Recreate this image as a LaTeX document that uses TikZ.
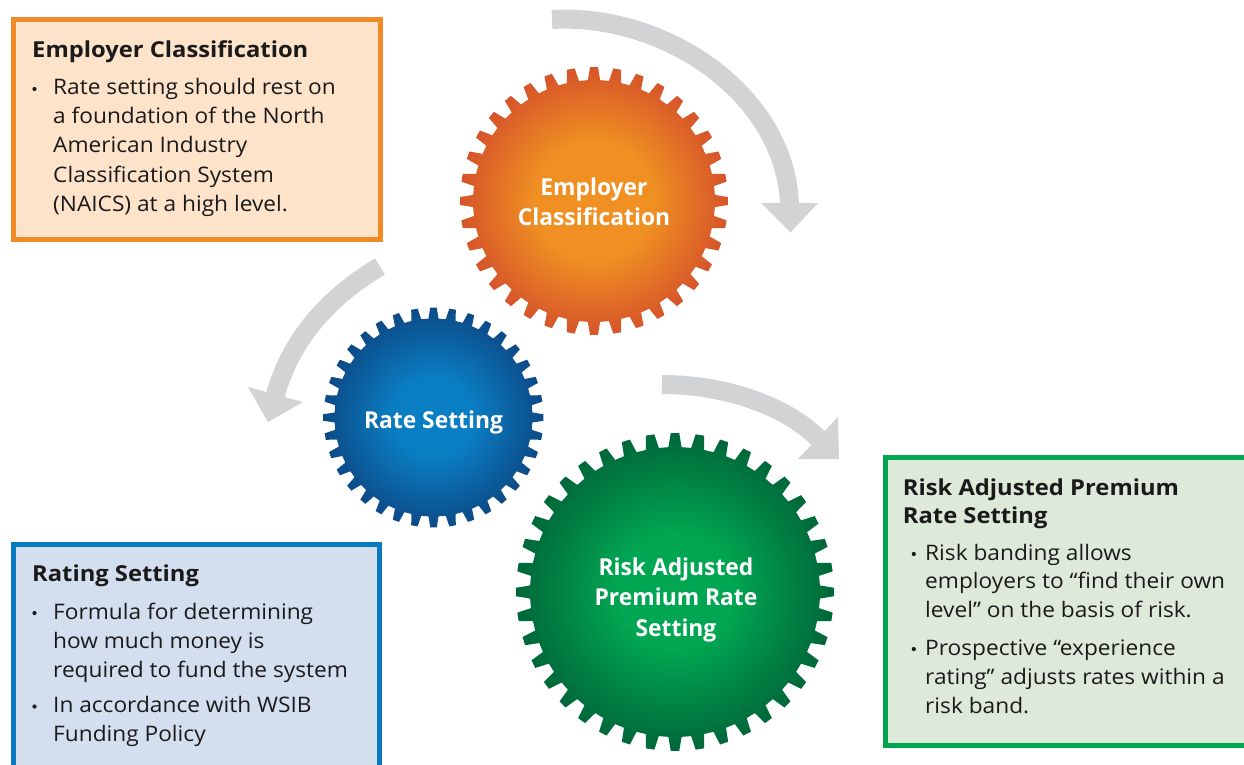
\documentclass[tikz,border=0pt]{standalone}
\usepackage{fontspec}
\setmainfont{Open Sans}
\newfontfamily\bodyf[FakeStretch=1.06]{Open Sans}
\newfontfamily\titlef[FakeStretch=1.08]{Open Sans}
\newfontfamily\gearf[FakeStretch=0.98]{Open Sans}
\usetikzlibrary{arrows.meta}
\definecolor{oFill}{HTML}{FDE3CA}
\definecolor{oLine}{HTML}{F08A26}
\definecolor{bFill}{HTML}{D3DEEF}
\definecolor{bLine}{HTML}{0A7ABF}
\definecolor{gFill}{HTML}{DDEAD9}
\definecolor{gLine}{HTML}{00A54F}
\definecolor{arrowgrey}{HTML}{D1D3D4}
\definecolor{txt}{HTML}{1A1A1A}
\definecolor{ocA}{HTML}{F09022}
\definecolor{ocB}{HTML}{D6542A}
\definecolor{bcA}{HTML}{0A7EC3}
\definecolor{bcB}{HTML}{0C4A86}
\definecolor{gcA}{HTML}{00A651}
\definecolor{gcB}{HTML}{00673A}
\pgfdeclareradialshading{orangesh}{\pgfpoint{0bp}{0bp}}{color(0bp)=(ocA); color(11bp)=(ocA); color(25bp)=(ocB); color(50bp)=(ocB)}
\pgfdeclareradialshading{bluesh}{\pgfpoint{0bp}{0bp}}{color(0bp)=(bcA); color(9bp)=(bcA); color(25bp)=(bcB); color(50bp)=(bcB)}
\pgfdeclareradialshading{greensh}{\pgfpoint{0bp}{0bp}}{color(0bp)=(gcA); color(9bp)=(gcA); color(25bp)=(gcB); color(50bp)=(gcB)}
% #1 cx, #2 cy, #3 teeth, #4 outer radius, #5 depth, #6 shading
\newcommand{\drawgear}[6]{%
  \begin{scope}[shift={(#1,#2)}]
    \pgfmathsetmacro\gP{360/#3}
    \pgfmathsetmacro\gRi{#4-#5}
    \pgfmathsetmacro\gbh{0.29*\gP}
    \pgfmathsetmacro\gth{0.17*\gP}
    \shade[shading=#6] ({90+\gP/2}:\gRi)
      \foreach \k in {1,...,#3} {
        -- ({90+\k*\gP-\gbh}:\gRi)
        -- ({90+\k*\gP-\gth}:#4)
        -- ({90+\k*\gP+\gth}:#4)
        -- ({90+\k*\gP+\gbh}:\gRi)
      } -- cycle;
  \end{scope}}
\begin{document}
\begin{tikzpicture}[x=1pt,y=-1pt,
  boxshape/.style={draw, line width=5pt, inner sep=0pt, anchor=north west},
  boxtitle/.style={font=\titlef\bfseries\fontsize{22}{29}\selectfont, text=txt, anchor=base west, inner sep=0pt},
  boxbody/.style={font=\bodyf\fontsize{21.4}{29}\selectfont, text=txt, anchor=base west, inner sep=0pt},
  geartext/.style={font=\gearf\bfseries\fontsize{23.3}{30}\selectfont, text=white, anchor=base, inner sep=0pt},
  shaft/.style={draw=arrowgrey, line width=19pt},
  headtip/.style={fill=arrowgrey},
  bulletdot/.style={fill=txt}]
\useasboundingbox (0,0) rectangle (1244,765);
\clip (0,0) rectangle (1244,765);

% ---------- boxes ----------
\node[boxshape, fill=oFill, draw=oLine, minimum width=367pt, minimum height=219pt] (box1) at (10.5,17.5) {};
\node[boxshape, fill=bFill, draw=bLine, minimum width=366pt, minimum height=260pt] (box2) at (10.5,541.5) {};
\node[boxshape, fill=gFill, draw=gLine, minimum width=380pt, minimum height=288pt] (box3) at (882.5,454.5) {};

% ---------- grey arrows ----------
\coordinate (a1s) at (552,19.5);
\coordinate (a1e) at (789.5,205);
\draw[shaft] (a1s) .. controls (665.6,12.9) and (786,95) .. (a1e);
\coordinate (h1l) at (761,203);
\coordinate (h1t) at (790.5,232.5);
\coordinate (h1r) at (818,203);
\fill[headtip] (h1l) -- (h1t) -- (h1r) -- cycle;

\coordinate (a2s) at (380,266.5);
\coordinate (a2e) at (275,396.5);
\draw[shaft] (a2s) .. controls (330,296) and (290.5,338.5) .. (a2e);
\coordinate (h2l) at (248,387);
\coordinate (h2t) at (268,422);
\coordinate (h2r) at (303,402);
\fill[headtip] (h2l) -- (h2t) -- (h2r) -- cycle;

\coordinate (a3s) at (662,384.5);
\coordinate (a3e) at (819,439);
\draw[shaft] (a3s) .. controls (720,384.5) and (783,403) .. (a3e);
\coordinate (h3l) at (838,417);
\coordinate (h3t) at (839,459);
\coordinate (h3r) at (798,459);
\fill[headtip] (h3l) -- (h3t) -- (h3r) -- cycle;

% ---------- gears ----------
\drawgear{594}{201}{36}{134}{13}{orangesh}
\drawgear{433.5}{417.5}{36}{110}{11}{bluesh}
\drawgear{675}{592}{40}{159}{14}{greensh}

\node[geartext] (g1a) at (594,195) {Employer};
\node[geartext] (g1b) at (594,225) {Classification};
\node[geartext] (g2a) at (433.5,428) {Rate Setting};
\node[geartext] (g3a) at (676,575) {Risk Adjusted};
\node[geartext] (g3b) at (676,605) {Premium Rate};
\node[geartext] (g3c) at (676,636) {Setting};

% ---------- box 1 text ----------
\node[boxtitle] (t1) at (32,57.5) {Employer Classification};
\fill[bulletdot] (34.5,89) circle (2.1);
\foreach \t [count=\k from 0] in {Rate setting should rest on, a foundation of the North, American Industry, Classification System, (NAICS) at a high level.}
  \node[boxbody] (b1-\k) at (53,95+29*\k) {\t};

% ---------- box 2 text ----------
\node[boxtitle] (t2) at (32,581.5) {Rating Setting};
\fill[bulletdot] (34.5,613) circle (2.1);
\fill[bulletdot] (34.5,706.5) circle (2.1);
\foreach \t [count=\k from 0] in {Formula for determining, how much money is, required to fund the system}
  \node[boxbody] (b2-\k) at (53,619+29*\k) {\t};
\foreach \t [count=\k from 0] in {In accordance with WSIB, Funding Policy}
  \node[boxbody] (b2b-\k) at (53,712.5+29*\k) {\t};

% ---------- box 3 text ----------
\node[boxtitle] (t3a) at (902.7,495) {Risk Adjusted Premium};
\node[boxtitle] (t3b) at (902.7,523.5) {Rate Setting};
\fill[bulletdot] (913.8,554) circle (2.1);
\fill[bulletdot] (913.8,649) circle (2.1);
\foreach \t [count=\k from 0] in {Risk banding allows, employers to “find their own, level” on the basis of risk.}
  \node[boxbody] (b3-\k) at (925,560+28.5*\k) {\t};
\foreach \t [count=\k from 0] in {Prospective “experience, rating” adjusts rates within a, risk band.}
  \node[boxbody] (b3b-\k) at (925,655+29*\k) {\t};
\end{tikzpicture}
\end{document}
